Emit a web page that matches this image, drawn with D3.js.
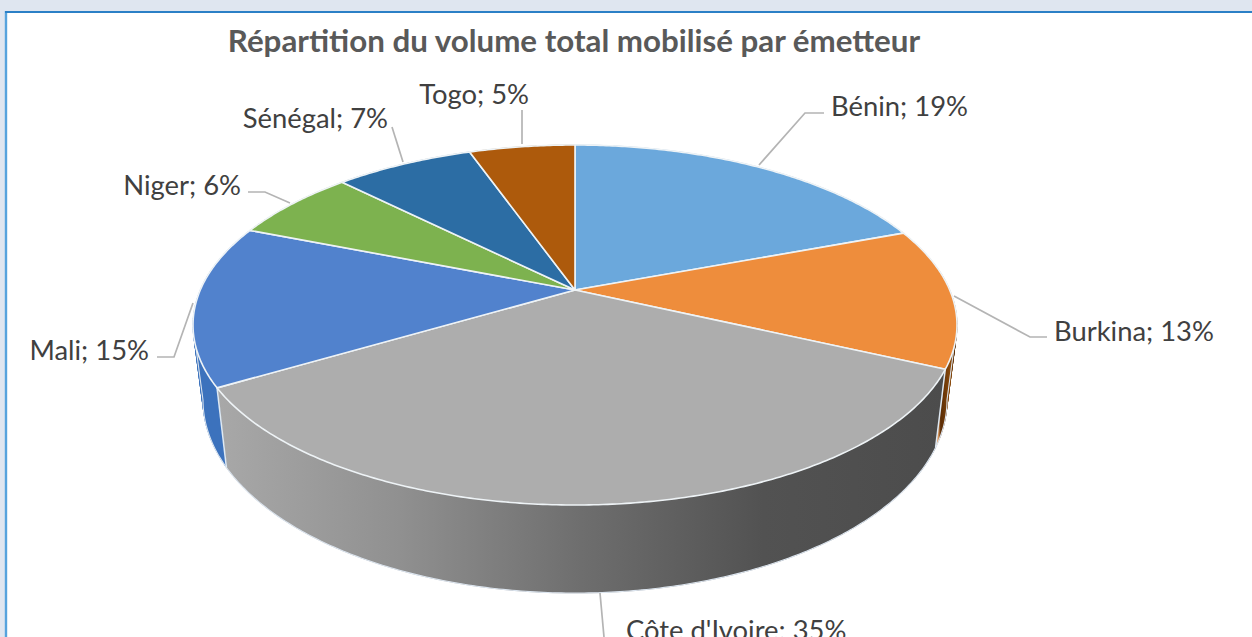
<!DOCTYPE html>
<html><head><meta charset="utf-8">
<script src="https://cdn.jsdelivr.net/npm/d3@7"></script>
<style>html,body{margin:0;padding:0;background:#dfe6f0;overflow:hidden}svg{display:block}text{font-family:Lato,"Open Sans",sans-serif}</style>
</head><body><svg id="c" width="1252" height="637"></svg>
<script>
const categories=["Bénin","Burkina","Côte d'Ivoire","Mali","Niger","Sénégal","Togo"];
const shares=[19.3,12.6,34.6,14.51,6.49,7.1,5.4];
const topColors=["#6ba8dc","#ee8d3c","#adadad","#5182cd","#7db24f","#2c6da4","#ad5a0c"];
const wallColors=["#4a83b8","#6e3808","#8a8a8a","#3c72bd","#5c8c38","#21507c","#7d4007"];
const chartTitle="Répartition du volume total mobilisé par émetteur";
const W=1252,H=637,svg=d3.select("#c");
const K=0.1945;
const topPlane={cx:575,cy:290,R:374.7,H:173.2};
const botPlane={cx:575,cy:362.5,R:364.9,H:185.7};
const proj=(p,a)=>{const u=Math.sin(a),v=Math.cos(a),d=1+K*v;return [p.cx+p.R*u/d,p.cy-p.H*v/d];};
const pie=d3.pie().sort(null).value(d=>d)(shares);
const line=d3.line();
const defs=svg.append("defs");
const gr=defs.append("linearGradient").attr("id","wallGrey").attr("gradientUnits","userSpaceOnUse")
 .attr("x1",218).attr("x2",945).attr("y1",0).attr("y2",0);
[[0,"#a8a8a8"],[0.25,"#909090"],[0.5,"#6e6e6e"],[0.75,"#525252"],[1,"#4c4c4c"]].forEach(s=>gr.append("stop").attr("offset",s[0]).attr("stop-color",s[1]));
const gb=defs.append("linearGradient").attr("id","wallBrown").attr("gradientUnits","userSpaceOnUse")
 .attr("x1",938).attr("x2",956).attr("y1",0).attr("y2",0);
[[0,"#e8a468"],[0.15,"#5a2c05"],[0.7,"#8a4a0c"],[1,"#4a2604"]].forEach(s=>gb.append("stop").attr("offset",s[0]).attr("stop-color",s[1]));

svg.append("rect").attr("width",W).attr("height",H).attr("fill","#dfe6f0");
svg.append("rect").attr("x",6).attr("y",12).attr("width",W).attr("height",H).attr("fill","#fff");
svg.append("line").attr("x1",6).attr("x2",6).attr("y1",11).attr("y2",H).attr("stroke","#56a3dd").attr("stroke-width",2.4);
svg.append("line").attr("x1",5).attr("x2",W).attr("y1",12).attr("y2",12).attr("stroke","#2b80c6").attr("stroke-width",2);
svg.append("text").attr("x",574).attr("y",52).attr("text-anchor","middle").attr("font-size",31.3).attr("font-weight",700).attr("fill","#595959").text(chartTitle);

const steps=(a0,a1)=>{const n=Math.max(4,Math.ceil((a1-a0)/0.01));return d3.range(n+1).map(i=>a0+(a1-a0)*i/n);};
const arcPts=(p,a0,a1)=>steps(a0,a1).map(a=>proj(p,a));
const wallPath=d=>{
 const s=steps(d.startAngle,d.endAngle);let out="";
 for(let i=0;i<s.length-1;i++){
  let q=[proj(topPlane,s[i]),proj(topPlane,s[i+1]),proj(botPlane,s[i+1]),proj(botPlane,s[i])];
  if(d3.polygonArea(q)<0) q=q.reverse();
  out+=line(q)+"Z";
 }
 return out;
};
svg.append("g").selectAll("path").data(pie).join("path")
 .attr("d",wallPath)
 .attr("fill",(d,i)=>i==2?"url(#wallGrey)":i==1?"url(#wallBrown)":wallColors[i])
 .attr("stroke",(d,i)=>i==2?"url(#wallGrey)":i==1?"url(#wallBrown)":wallColors[i]).attr("stroke-width",0.5);
const tangent=Math.acos(-K);
const frontA=tangent,frontB=2*Math.PI-tangent;
const edge=svg.append("g").attr("fill","none").attr("stroke","#dbe4ee").attr("stroke-width",1.1);
edge.append("path").attr("d",line(arcPts(botPlane,frontA,frontB)));
[frontA,frontB].forEach(a=>edge.append("path").attr("d",line([proj(topPlane,a),proj(botPlane,a)])));
pie.forEach(d=>{const a=d.endAngle;if(a>frontA&&a<frontB)edge.append("path").attr("stroke","#dfe9f2").attr("stroke-width",1.5).attr("d",line([proj(topPlane,a),proj(botPlane,a)]));});
svg.append("g").selectAll("path").data(pie).join("path")
 .attr("d",d=>line([[topPlane.cx,topPlane.cy]].concat(arcPts(topPlane,d.startAngle,d.endAngle)))+"Z")
 .attr("fill",(d,i)=>topColors[i]).attr("stroke","#eef3f6").attr("stroke-width",1.6).attr("stroke-linejoin","round");

const labelAnchor=["start","start","start","end","end","end","end"];
const labelX=[831,1054,626,149,241,388,529];
const labelY=[116,341,640,360,195,128,104];
const leaders=[[[759,165],[805,113],[824,113]],[[954,296],[1030,337],[1047,337]],[[600,593],[604,637]],[[193,303],[174,357],[157,357]],[[290,203],[265,192],[248,192]],[[403,162],[392,127]],[[522,144],[522,110]]];
svg.append("g").selectAll("path").data(leaders).join("path").attr("d",d=>line(d)).attr("fill","none").attr("stroke","#b4b4b4").attr("stroke-width",1.7);
svg.append("g").selectAll("text").data(categories).join("text")
 .attr("x",(d,i)=>labelX[i]).attr("y",(d,i)=>labelY[i]).attr("text-anchor",(d,i)=>labelAnchor[i])
 .attr("font-size",27.4).attr("fill","#404040").text((d,i)=>d+"; "+Math.round(shares[i])+"%");
</script></body></html>
